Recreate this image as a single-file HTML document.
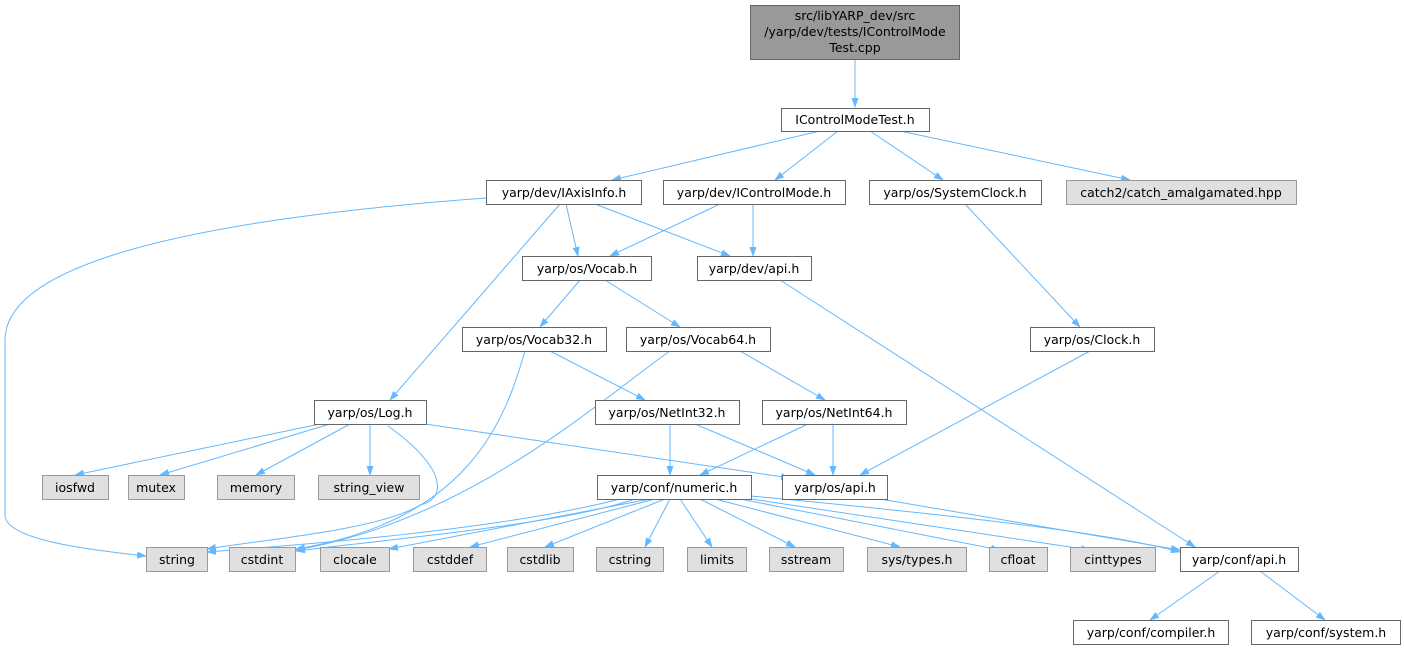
<!DOCTYPE html>
<html><head><meta charset="utf-8"><style>
html,body{margin:0;padding:0;background:#fff;}
svg text{font-family:"DejaVu Sans","Liberation Sans",sans-serif;font-size:12.5px;fill:#000;}
</style></head><body>
<svg width="1404" height="652" viewBox="0 0 1404 652" xmlns="http://www.w3.org/2000/svg">
<defs><marker id="a" markerWidth="10" markerHeight="10" refX="9" refY="5" orient="auto" markerUnits="userSpaceOnUse"><path d="M0,1.5 L10,5 L0,8.5 z" fill="#63b8ff"/></marker></defs>
<g fill="none" stroke="#63b8ff" stroke-width="1" marker-end="url(#a)">
<path d="M855,59 L855,107"/>
<path d="M820,131 L612,180"/>
<path d="M838,131 L775,180"/>
<path d="M870,131 L943,180"/>
<path d="M900,131 L1130,180"/>
<path d="M566,204 L578,256"/>
<path d="M595,204 L730,256"/>
<path d="M560,204 L390,400"/>
<path d="M486,198 C120,225 5,280 5,340 L5,515 C5,540 90,550 146,556"/>
<path d="M720,204 L610,256"/>
<path d="M753,204 L753,256"/>
<path d="M580,280 L540,327"/>
<path d="M605,280 L680,327"/>
<path d="M780,280 L1195,547"/>
<path d="M965,204 L1080,327"/>
<path d="M525,351 C505,420 470,520 296,549"/>
<path d="M550,351 L645,400"/>
<path d="M670,351 C600,400 470,520 296,550"/>
<path d="M740,351 L825,400"/>
<path d="M1090,351 L860,475"/>
<path d="M670,424 L670,475"/>
<path d="M695,424 L815,475"/>
<path d="M808,424 L700,475"/>
<path d="M833,424 L833,475"/>
<path d="M320,424 L75,475"/>
<path d="M330,424 L160,475"/>
<path d="M350,424 L256,475"/>
<path d="M370,424 L370,475"/>
<path d="M425,424 L790,478"/>
<path d="M388,426 C450,470 445,500 420,505 C380,530 260,540 207,549"/>
<path d="M620,499 C500,530 300,545 207,552"/>
<path d="M635,499 C560,525 380,540 296,551"/>
<path d="M650,499 L389,549"/>
<path d="M655,499 L470,547"/>
<path d="M665,499 L545,547"/>
<path d="M670,499 L645,547"/>
<path d="M680,499 L712,547"/>
<path d="M700,499 L795,547"/>
<path d="M715,499 L900,547"/>
<path d="M740,499 L1000,550"/>
<path d="M751,499 L1090,550"/>
<path d="M751,496 C900,510 1100,530 1180,552"/>
<path d="M880,499 L1180,550"/>
<path d="M1220,571 L1150,620"/>
<path d="M1260,571 L1325,620"/>
</g>
<g stroke="#666" stroke-width="1">
<rect x="750.5" y="5.5" width="209" height="54" fill="#999"/>
<rect x="781.5" y="108.5" width="148" height="23" fill="#fff"/>
<rect x="486.5" y="180.5" width="155" height="24" fill="#fff"/>
<rect x="663.5" y="180.5" width="182" height="24" fill="#fff"/>
<rect x="869.5" y="180.5" width="172" height="24" fill="#fff"/>
<rect x="1066.5" y="180.5" width="230" height="24" fill="#e0e0e0" stroke="#999"/>
<rect x="522.5" y="256.5" width="129" height="24" fill="#fff"/>
<rect x="697.5" y="256.5" width="114" height="24" fill="#fff"/>
<rect x="462.5" y="327.5" width="144" height="24" fill="#fff"/>
<rect x="626.5" y="327.5" width="144" height="24" fill="#fff"/>
<rect x="1030.5" y="327.5" width="124" height="24" fill="#fff"/>
<rect x="314.5" y="400.5" width="112" height="24" fill="#fff"/>
<rect x="595.5" y="400.5" width="144" height="24" fill="#fff"/>
<rect x="762.5" y="400.5" width="144" height="24" fill="#fff"/>
<rect x="597.5" y="475.5" width="154" height="24" fill="#fff"/>
<rect x="782.5" y="475.5" width="105" height="24" fill="#fff"/>
<rect x="1180.5" y="547.5" width="118" height="24" fill="#fff"/>
<rect x="1073.5" y="620.5" width="155" height="24" fill="#fff"/>
<rect x="1251.5" y="620.5" width="149" height="24" fill="#fff"/>
</g>
<g stroke="#999" stroke-width="1" fill="#e0e0e0">
<rect x="42.5" y="475.5" width="66" height="24"/>
<rect x="128.5" y="475.5" width="56" height="24"/>
<rect x="217.5" y="475.5" width="77" height="24"/>
<rect x="318.5" y="475.5" width="101" height="24"/>
<rect x="146.5" y="547.5" width="61" height="24"/>
<rect x="229.5" y="547.5" width="66" height="24"/>
<rect x="320.5" y="547.5" width="69" height="24"/>
<rect x="413.5" y="547.5" width="73" height="24"/>
<rect x="507.5" y="547.5" width="66" height="24"/>
<rect x="596.5" y="547.5" width="67" height="24"/>
<rect x="687.5" y="547.5" width="59" height="24"/>
<rect x="769.5" y="547.5" width="74" height="24"/>
<rect x="867.5" y="547.5" width="99" height="24"/>
<rect x="989.5" y="547.5" width="58" height="24"/>
<rect x="1070.5" y="547.5" width="85" height="24"/>
</g>
<g text-anchor="middle">
<text x="855" y="20">src/libYARP_dev/src</text>
<text x="855" y="36">/yarp/dev/tests/IControlMode</text>
<text x="855" y="52">Test.cpp</text>
<text x="855" y="124">IControlModeTest.h</text>
<text x="564" y="197">yarp/dev/IAxisInfo.h</text>
<text x="754" y="197">yarp/dev/IControlMode.h</text>
<text x="955" y="197">yarp/os/SystemClock.h</text>
<text x="1181" y="197">catch2/catch_amalgamated.hpp</text>
<text x="587" y="273">yarp/os/Vocab.h</text>
<text x="754" y="273">yarp/dev/api.h</text>
<text x="534" y="344">yarp/os/Vocab32.h</text>
<text x="698" y="344">yarp/os/Vocab64.h</text>
<text x="1092" y="344">yarp/os/Clock.h</text>
<text x="370" y="417">yarp/os/Log.h</text>
<text x="667" y="417">yarp/os/NetInt32.h</text>
<text x="834" y="417">yarp/os/NetInt64.h</text>
<text x="75" y="492">iosfwd</text>
<text x="156" y="492">mutex</text>
<text x="256" y="492">memory</text>
<text x="369" y="492">string_view</text>
<text x="674" y="492">yarp/conf/numeric.h</text>
<text x="835" y="492">yarp/os/api.h</text>
<text x="177" y="564">string</text>
<text x="262" y="564">cstdint</text>
<text x="355" y="564">clocale</text>
<text x="450" y="564">cstddef</text>
<text x="540" y="564">cstdlib</text>
<text x="630" y="564">cstring</text>
<text x="717" y="564">limits</text>
<text x="806" y="564">sstream</text>
<text x="917" y="564">sys/types.h</text>
<text x="1018" y="564">cfloat</text>
<text x="1113" y="564">cinttypes</text>
<text x="1239" y="564">yarp/conf/api.h</text>
<text x="1151" y="637">yarp/conf/compiler.h</text>
<text x="1326" y="637">yarp/conf/system.h</text>
</g>
</svg>
</body></html>
